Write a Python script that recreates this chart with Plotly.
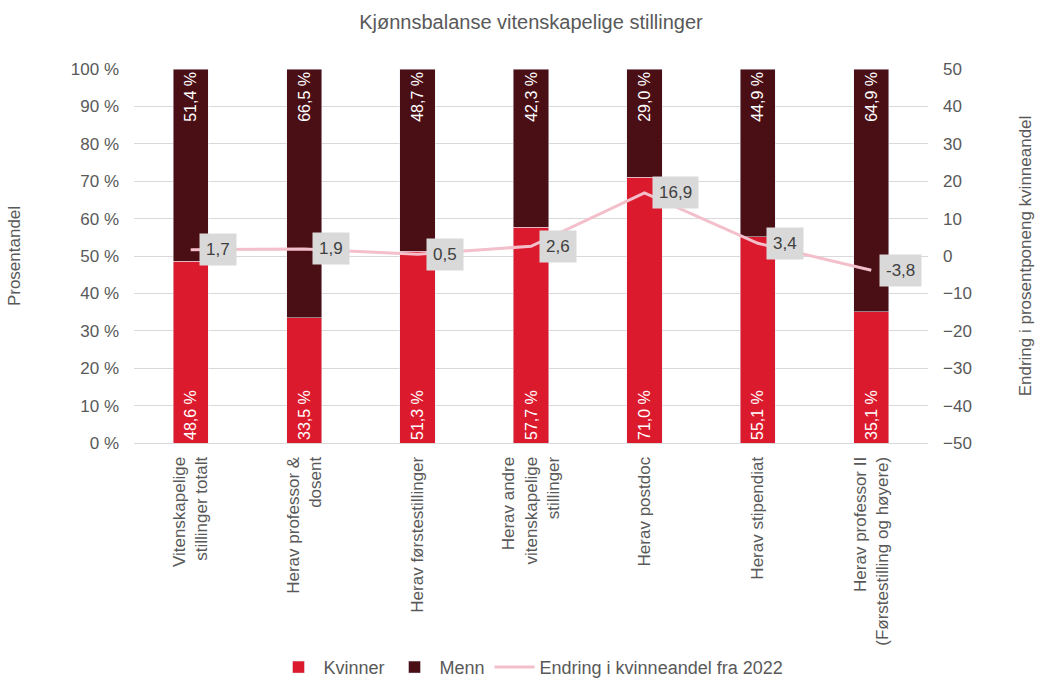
import plotly.graph_objects as go

categories = [
    "Vitenskapelige<br>stillinger totalt",
    "Herav professor &<br>dosent",
    "Herav førstestillinger",
    "Herav andre<br>vitenskapelige<br>stillinger",
    "Herav postdoc",
    "Herav stipendiat",
    "Herav professor II<br>(Førstestilling og høyere)",
]
kvinner = [48.6, 33.5, 51.3, 57.7, 71.0, 55.1, 35.1]
menn = [51.4, 66.5, 48.7, 42.3, 29.0, 44.9, 64.9]
endring = [1.7, 1.9, 0.5, 2.6, 16.9, 3.4, -3.8]

RED = "#dc1a2d"
DARK = "#4a0e15"
PINK = "#f2bfca"
GRAY = "#595959"
FONT = "Liberation Sans, Arial, sans-serif"

def fmt(v, suffix=""):
    return f"{v:.1f}".replace(".", ",") + suffix

fig = go.Figure()
fig.add_trace(go.Bar(
    x=categories, y=kvinner, name="Kvinner", marker_color=RED,
    text=[fmt(v, " %") for v in kvinner], textposition="inside",
    insidetextanchor="start", textangle=-90,
    textfont=dict(color="white", size=16, family=FONT),
))
fig.add_trace(go.Bar(
    x=categories, y=menn, name="Menn", marker_color=DARK,
    text=[fmt(v, " %") for v in menn], textposition="inside",
    insidetextanchor="end", textangle=-90,
    textfont=dict(color="white", size=16, family=FONT),
))
fig.add_trace(go.Scatter(
    x=categories, y=endring, name="Endring i kvinneandel fra 2022",
    mode="lines", line=dict(color=PINK, width=3), yaxis="y2",
))

for c, v in zip(categories, endring):
    fig.add_annotation(
        x=c, y=v, xref="x", yref="y2", text=fmt(v), showarrow=False,
        xanchor="left", yanchor="middle", xshift=8,
        bgcolor="#d9d9d9", borderpad=6,
        font=dict(size=17, color="#404040", family=FONT),
    )

fig.update_layout(
    width=1041, height=681,
    barmode="stack", bargap=0.69,
    plot_bgcolor="white", paper_bgcolor="white",
    font=dict(family=FONT, color=GRAY, size=15),
    margin=dict(l=134, r=113, t=69, b=238, autoexpand=False),
    title=dict(text="Kjønnsbalanse vitenskapelige stillinger", x=0.5, xref="paper",
               xanchor="center", y=0.967, yanchor="middle",
               font=dict(size=20, color=GRAY, family=FONT)),
    xaxis=dict(tickangle=-90, showline=True, linecolor="#d9d9d9", linewidth=1,
               ticks="", ticklabelstandoff=6,
               tickfont=dict(size=17, color=GRAY), automargin=False),
    yaxis=dict(range=[0, 100], dtick=10, ticksuffix=" %", showgrid=True,
               gridcolor="#d9d9d9", zeroline=False, ticklabelstandoff=14,
               title=dict(text="Prosentandel", font=dict(size=17, color=GRAY), standoff=45),
               tickfont=dict(size=17, color=GRAY), automargin=False),
    yaxis2=dict(range=[-50, 50], dtick=10, overlaying="y", side="right",
                showgrid=False, zeroline=False, ticklabelstandoff=14,
                title=dict(text="Endring i prosentponeng kvinneandel",
                           font=dict(size=17, color=GRAY), standoff=48),
                tickfont=dict(size=17, color=GRAY), automargin=False),
    legend=dict(orientation="h", x=0.5, xanchor="center", y=-0.6, yanchor="middle",
                font=dict(size=18, color=GRAY), traceorder="normal",
                itemwidth=40),
    showlegend=True,
)

fig.write_html("out.html")
